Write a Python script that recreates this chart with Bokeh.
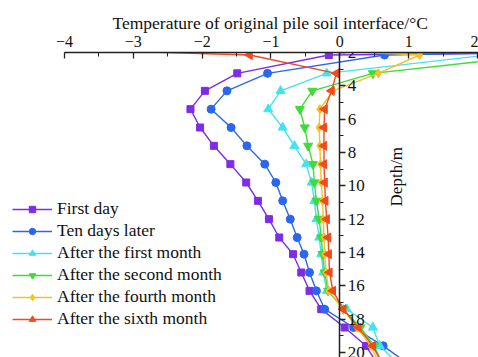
import math
from bokeh.plotting import figure
from bokeh.models import (Range1d, LinearAxis, SingleIntervalTicker, Legend,
                          LegendItem, Label)
from bokeh.embed import file_html
from bokeh.resources import INLINE

# Depth of measuring points (m)
depth = [1.0, 2.15, 3.25, 4.3, 5.4, 6.5, 7.6, 8.7, 9.8, 10.9, 12.0,
         13.1, 14.1, 15.2, 16.3, 17.4, 18.5, 19.6, 20.7]

# Temperature of original pile soil interface (deg C)
first_day = [30.0, -0.16, -1.49, -1.96, -2.17, -2.03, -1.83, -1.59, -1.36,
             -1.19, -1.03, -0.88, -0.68, -0.56, -0.44, -0.27, 0.07, 0.38, 0.55]
ten_days = [16.0, 0.65, -1.05, -1.64, -1.87, -1.58, -1.35, -1.09, -0.93,
            -0.83, -0.72, -0.62, -0.52, -0.44, -0.34, -0.22, 0.20, 0.63, 1.0]
first_month = [20.0, 2.15, -0.19, -0.86, -1.04, -0.83, -0.66, -0.49, -0.41,
               -0.37, -0.34, -0.30, -0.27, -0.24, -0.19, 0.10, 0.48, 0.58, 0.85]
second_month = [20.0, 2.90, 0.48, -0.40, -0.58, -0.51, -0.46, -0.39, -0.37,
                -0.34, -0.30, -0.27, -0.25, -0.22, -0.17, 0.05, 0.30, 0.50, 0.62]
fourth_month = [-4.7, 1.16, 0.56, -0.10, -0.29, -0.30, -0.29, -0.28, -0.27,
                -0.25, -0.24, -0.23, -0.22, -0.20, -0.16, 0.05, 0.25, 0.45, 0.58]
sixth_month = [-10.7, -1.31, -0.05, -0.12, -0.22, -0.23, -0.23, -0.23, -0.22,
               -0.21, -0.19, -0.17, -0.16, -0.15, -0.10, 0.05, 0.27, 0.48, 0.62]

labels = ["First day", "Ten days later", "After the first month",
          "After the second month", "After the fourth month",
          "After the sixth month"]
series = [first_day, ten_days, first_month, second_month, fourth_month,
          sixth_month]
colors = ["#7E2CE6", "#2A66EE", "#44E2F0", "#3EDC36", "#F6C022", "#F04A1E"]
markers = ["square", "circle", "triangle", "inverted_triangle", "diamond",
           "triangle"]
angles = [0, 0, 0, 0, 0, math.pi / 2]
sizes = [7, 8, 9, 9, 9, 9]

x_ticks_bounds = (-4, 2.015)
x_title = "Temperature of original pile soil interface/\u00b0C"
y_title = "Depth/m"

FONT = "Liberation Serif"

p = figure(width=478, height=357, output_backend="svg", toolbar_location=None,
           x_range=Range1d(-4.93, 2.015), y_range=Range1d(20.3, 2),
           x_axis_location="above", y_axis_location=None,
           min_border_left=0, min_border_right=0, min_border_top=52,
           min_border_bottom=0, title=x_title)
p.outline_line_color = None
p.grid.visible = False

p.title.align = "left"
p.title.offset = 112
p.title.text_font = FONT
p.title.text_font_size = "17.5px"
p.title.text_font_style = "normal"
p.title.text_color = "#111111"
p.title.standoff = 0

xa = p.xaxis[0]
xa.bounds = x_ticks_bounds
xa.ticker = SingleIntervalTicker(interval=1, num_minor_ticks=2)
xa.major_label_text_font = FONT
xa.major_label_text_font_size = "16px"
xa.major_label_text_color = "#111111"
xa.major_label_standoff = 6
xa.major_tick_in = 6
xa.major_tick_out = 0
xa.minor_tick_in = 4
xa.minor_tick_out = 0
xa.axis_line_width = 1.5
xa.axis_line_color = "#222222"
xa.major_tick_line_color = "#222222"
xa.minor_tick_line_color = "#222222"
xa.major_tick_line_width = 1.3

ya = LinearAxis(fixed_location=0,
                ticker=SingleIntervalTicker(interval=2, num_minor_ticks=2))
ya.major_label_text_font = FONT
ya.major_label_text_font_size = "17px"
ya.major_label_text_color = "#111111"
ya.major_label_standoff = 2
ya.major_tick_in = 0
ya.major_tick_out = 6
ya.minor_tick_in = 0
ya.minor_tick_out = 4
ya.axis_line_width = 1.5
ya.axis_line_color = "#222222"
ya.major_tick_line_color = "#222222"
ya.minor_tick_line_color = "#222222"
ya.major_tick_line_width = 1.3
p.add_layout(ya, "right")

p.add_layout(Label(x=0.82, y=9.45, text=y_title, angle=math.pi / 2,
                   text_font=FONT, text_font_size="17px",
                   text_color="#111111", text_align="center",
                   text_baseline="middle"))

items = []
for lab, vals, c, m, a, s in zip(labels, series, colors, markers, angles, sizes):
    lr = p.line(vals, depth, line_color=c, line_width=1.4)
    sr = p.scatter(vals, depth, marker=m, angle=a, size=s, fill_color=c,
                   line_color=c)
    items.append(LegendItem(label=lab, renderers=[lr, sr]))

legend = Legend(items=items, location=(12, 28))
legend.border_line_color = None
legend.background_fill_alpha = 0
legend.label_text_font = FONT
legend.label_text_font_size = "17.5px"
legend.label_text_color = "#111111"
legend.glyph_width = 40
legend.glyph_height = 16
legend.label_height = 16
legend.spacing = 1
legend.padding = 2
legend.margin = 0
legend.label_standoff = 5
p.add_layout(legend)

open("out.html", "w").write(file_html(p, INLINE))
